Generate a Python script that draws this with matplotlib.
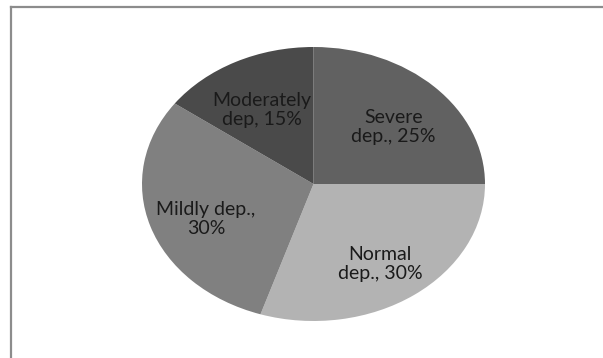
import matplotlib
matplotlib.use("Agg")
import matplotlib.pyplot as plt
from matplotlib.lines import Line2D

# depression categories, clockwise from the top
labels = ["Severe\ndep., 25%", "Normal\ndep., 30%", "Mildly dep.,\n30%", "Moderately\ndep, 15%"]
shares = [25, 30, 30, 15]
colors = ["#616161", "#b3b3b3", "#808080", "#4a4a4a"]

fig = plt.figure(figsize=(6.03, 3.58), dpi=100)
fig.patch.set_facecolor("white")

# axes placed so the unit pie becomes a flattened ellipse
ax = fig.add_axes([142 / 603, 37 / 358, 343 / 603, 274 / 358])
wedges, texts = ax.pie(shares, labels=labels, colors=colors, startangle=90,
                       counterclock=False, labeldistance=0.66,
                       wedgeprops=dict(linewidth=0),
                       textprops=dict(fontsize=14, color="#1a1a1a", family="Lato",
                                      ha="center", va="center", linespacing=1.12))
# labels sit a little lower than the wedge midpoints
for t in texts:
    t.set_horizontalalignment("center")
    x, y = t.get_position()
    t.set_position((x, y - 0.05))
ax.set_aspect("auto")
ax.set_xlim(-1, 1)
ax.set_ylim(-1, 1)
ax.axis("off")

# chart-area frame (only top and left edges show)
fx = 11 / 603
fy = 1 - 7 / 358
fig.add_artist(Line2D([fx, fx], [0, fy], transform=fig.transFigure, color="#8c8c8c", lw=1.6))
fig.add_artist(Line2D([fx, 1], [fy, fy], transform=fig.transFigure, color="#8c8c8c", lw=1.6))

fig.savefig("out.png", dpi=100)
